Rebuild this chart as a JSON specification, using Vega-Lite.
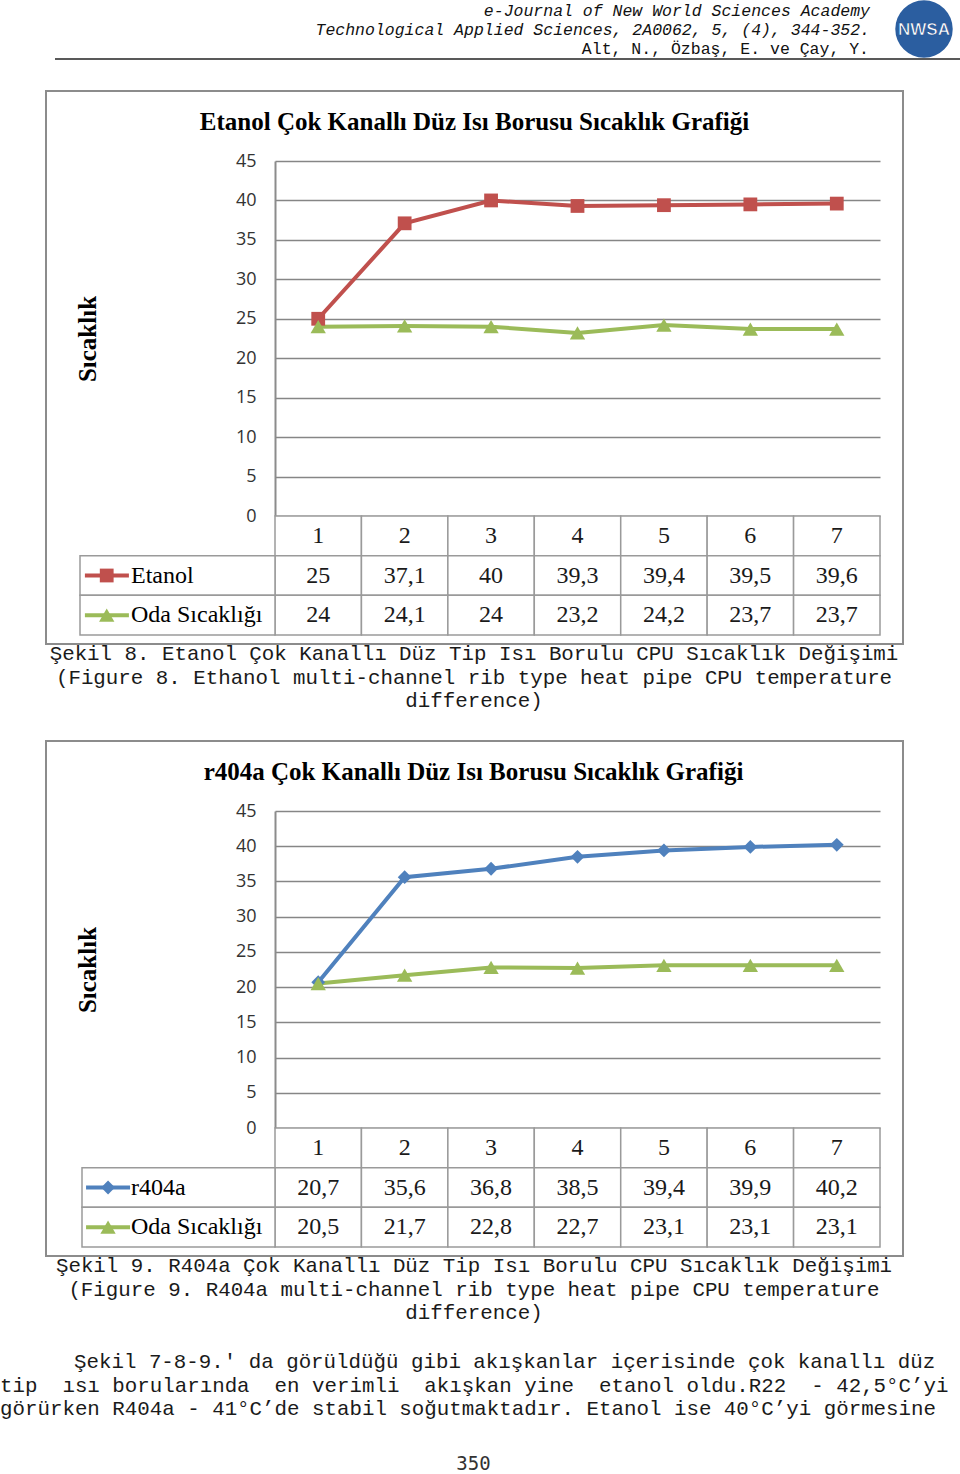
{
  "$schema": "https://vega.github.io/schema/vega-lite/v6.json",
  "padding": 0,
  "autosize": {"type": "pad"},
  "background": "white",
  "spacing": 0,
  "bounds": "flush",
  "center": true,
  "resolve": {"scale": {"color": "independent", "shape": "independent"}},
  "config": {
    "view": {"stroke": null},
    "locale": {"number": {"decimal": ",", "thousands": ".", "grouping": [3], "currency": ["", " €"]}}
  },
  "datasets": {
    "d1": [
      {"k": 1, "series": "Etanol", "value": 25},
      {"k": 2, "series": "Etanol", "value": 37.1},
      {"k": 3, "series": "Etanol", "value": 40},
      {"k": 4, "series": "Etanol", "value": 39.3},
      {"k": 5, "series": "Etanol", "value": 39.4},
      {"k": 6, "series": "Etanol", "value": 39.5},
      {"k": 7, "series": "Etanol", "value": 39.6},
      {"k": 1, "series": "Oda Sıcaklığı", "value": 24},
      {"k": 2, "series": "Oda Sıcaklığı", "value": 24.1},
      {"k": 3, "series": "Oda Sıcaklığı", "value": 24},
      {"k": 4, "series": "Oda Sıcaklığı", "value": 23.2},
      {"k": 5, "series": "Oda Sıcaklığı", "value": 24.2},
      {"k": 6, "series": "Oda Sıcaklığı", "value": 23.7},
      {"k": 7, "series": "Oda Sıcaklığı", "value": 23.7}
    ],
    "d2": [
      {"k": 1, "series": "r404a", "value": 20.7},
      {"k": 2, "series": "r404a", "value": 35.6},
      {"k": 3, "series": "r404a", "value": 36.8},
      {"k": 4, "series": "r404a", "value": 38.5},
      {"k": 5, "series": "r404a", "value": 39.4},
      {"k": 6, "series": "r404a", "value": 39.9},
      {"k": 7, "series": "r404a", "value": 40.2},
      {"k": 1, "series": "Oda Sıcaklığı", "value": 20.5},
      {"k": 2, "series": "Oda Sıcaklığı", "value": 21.7},
      {"k": 3, "series": "Oda Sıcaklığı", "value": 22.8},
      {"k": 4, "series": "Oda Sıcaklığı", "value": 22.7},
      {"k": 5, "series": "Oda Sıcaklığı", "value": 23.1},
      {"k": 6, "series": "Oda Sıcaklığı", "value": 23.1},
      {"k": 7, "series": "Oda Sıcaklığı", "value": 23.1}
    ]
  },
  "vconcat": [
    {
      "width": 949,
      "height": 91,
      "data": {"values": [{}]},
      "layer": [
        {"mark": {"type": "text", "text": "e-Journal of New World Sciences Academy", "x": 870, "y": 15.5, "align": "right", "baseline": "alphabetic", "font": "Liberation Mono", "fontSize": 16.5, "fontStyle": "italic", "color": "#111"}},
        {"mark": {"type": "text", "text": "Technological Applied Sciences, 2A0062, 5, (4), 344-352.", "x": 870, "y": 34.5, "align": "right", "baseline": "alphabetic", "font": "Liberation Mono", "fontSize": 16.5, "fontStyle": "italic", "color": "#111"}},
        {"mark": {"type": "text", "text": "Alt, N., Özbaş, E. ve Çay, Y.", "x": 869, "y": 53.5, "align": "right", "baseline": "alphabetic", "font": "Liberation Mono", "fontSize": 16.5, "color": "#111"}},
        {"mark": {"type": "rule", "color": "#222", "strokeWidth": 1.5}, "encoding": {"x": {"value": 55}, "x2": {"value": 960}, "y": {"value": 59}}},
        {"mark": {"type": "point", "shape": "circle", "filled": true, "color": "#2b5ea0", "opacity": 1, "size": 3300, "x": 924, "y": 29}},
        {"mark": {"type": "text", "text": "NWSA", "x": 924, "y": 30, "align": "center", "baseline": "middle", "font": "Liberation Sans", "fontSize": 17, "fontWeight": "bold", "color": "white", "stroke": "#1d4d8c", "strokeWidth": 0.6}}
      ]
    },
    {
      "width": 857,
      "height": 553,
      "view": {"stroke": "#8c8c8c", "strokeWidth": 2, "fill": "white"},
      "data": {"name": "d1"},
      "resolve": {"scale": {"x": "independent", "y": "independent"}},
      "layer": [
        {"data": {"values": [{}]}, "mark": {"type": "text", "text": "Etanol Çok Kanallı Düz Isı Borusu Sıcaklık Grafiği", "x": 428.5, "y": 31, "align": "center", "baseline": "middle", "font": "Liberation Serif", "fontSize": 25, "fontWeight": "bold", "color": "#000"}},
        {
          "mark": {"type": "line", "strokeWidth": 4},
          "encoding": {
            "x": {"field": "k", "type": "ordinal", "scale": {"type": "point", "padding": 0.5, "range": [229, 834]}, "axis": null},
            "y": {"field": "value", "type": "quantitative", "scale": {"domain": [0, 45], "range": [425, 70], "nice": false, "zero": false},
              "axis": {"values": [0, 5, 10, 15, 20, 25, 30, 35, 40, 45], "offset": -229, "ticks": false, "tickSize": 0, "labelPadding": 19, "domain": true, "domainColor": "#8c8c8c", "domainWidth": 2, "grid": true, "gridColor": "#868686", "gridWidth": 1.3, "labelFont": "Open Sans", "labelFontSize": 18, "labelColor": "#333", "title": "Sıcaklık", "titleFont": "Liberation Serif", "titleFontSize": 25, "titleFontWeight": "bold", "titleColor": "#000", "titleX": -188, "titleY": 247.5, "titleAngle": 270, "titleAlign": "center", "titleBaseline": "middle"}},
            "color": {"field": "series", "type": "nominal", "scale": {"domain": ["Etanol", "Oda Sıcaklığı"], "range": ["#C0504D", "#9BBB59"]}, "legend": null}
          }
        },
        {
          "mark": {"type": "point", "filled": true, "opacity": 1},
          "encoding": {
            "x": {"field": "k", "type": "ordinal", "scale": {"type": "point", "padding": 0.5, "range": [229, 834]}, "axis": null},
            "y": {"field": "value", "type": "quantitative", "scale": {"domain": [0, 45], "range": [425, 70], "nice": false, "zero": false}, "axis": null},
            "color": {"field": "series", "type": "nominal", "scale": {"domain": ["Etanol", "Oda Sıcaklığı"], "range": ["#C0504D", "#9BBB59"]}, "legend": null},
            "shape": {"field": "series", "type": "nominal", "scale": {"domain": ["Etanol", "Oda Sıcaklığı"], "range": ["square", "triangle-up"]}, "legend": null},
            "size": {"field": "series", "type": "nominal", "scale": {"type": "ordinal", "domain": ["Etanol", "Oda Sıcaklığı"], "range": [190, 235]}, "legend": null}
          }
        },
        {
          "transform": [{"filter": "datum.series === 'Etanol'"}],
          "mark": {"type": "rect", "fill": "white", "stroke": "#9a9a9a", "strokeWidth": 1.5},
          "encoding": {
            "x": {"field": "k", "type": "ordinal", "scale": {"type": "band", "paddingInner": 0, "paddingOuter": 0, "range": [229, 834]}, "axis": null},
            "y": {"datum": "h", "type": "nominal", "scale": {"type": "band", "domain": ["h", "Etanol", "Oda Sıcaklığı"], "paddingInner": 0, "paddingOuter": 0, "range": [425, 544]}, "axis": null}
          }
        },
        {
          "mark": {"type": "rect", "fill": "white", "stroke": "#9a9a9a", "strokeWidth": 1.5},
          "encoding": {
            "x": {"field": "k", "type": "ordinal", "scale": {"type": "band", "paddingInner": 0, "paddingOuter": 0, "range": [229, 834]}, "axis": null},
            "y": {"field": "series", "type": "nominal", "scale": {"type": "band", "domain": ["h", "Etanol", "Oda Sıcaklığı"], "paddingInner": 0, "paddingOuter": 0, "range": [425, 544]}, "axis": null}
          }
        },
        {
          "transform": [{"filter": "datum.series === 'Etanol'"}],
          "mark": {"type": "text", "font": "Liberation Serif", "fontSize": 24, "color": "#1a1a1a", "baseline": "middle", "align": "center"},
          "encoding": {
            "x": {"field": "k", "type": "ordinal", "scale": {"type": "point", "padding": 0.5, "range": [229, 834]}, "axis": null},
            "y": {"datum": "h", "type": "nominal", "scale": {"type": "point", "padding": 0.5, "domain": ["h", "Etanol", "Oda Sıcaklığı"], "range": [425, 544]}, "axis": null},
            "text": {"field": "k", "type": "ordinal"}
          }
        },
        {
          "mark": {"type": "text", "font": "Liberation Serif", "fontSize": 24, "color": "#1a1a1a", "baseline": "middle", "align": "center"},
          "encoding": {
            "x": {"field": "k", "type": "ordinal", "scale": {"type": "point", "padding": 0.5, "range": [229, 834]}, "axis": null},
            "y": {"field": "series", "type": "nominal", "scale": {"type": "point", "padding": 0.5, "domain": ["h", "Etanol", "Oda Sıcaklığı"], "range": [425, 544]}, "axis": null},
            "text": {"field": "value", "type": "quantitative", "format": ".1~f"}
          }
        },
        {
          "transform": [{"filter": "datum.k === 1"}],
          "mark": {"type": "rect", "fill": "white", "stroke": "#9a9a9a", "strokeWidth": 1.5},
          "encoding": {
            "x": {"datum": 0, "type": "quantitative", "scale": {"domain": [0, 1], "range": [34, 229], "nice": false, "zero": false}, "axis": null},
            "x2": {"datum": 1},
            "y": {"field": "series", "type": "nominal", "scale": {"type": "band", "domain": ["h", "Etanol", "Oda Sıcaklığı"], "paddingInner": 0, "paddingOuter": 0, "range": [425, 544]}, "axis": null}
          }
        },
        {
          "transform": [{"filter": "datum.k === 1"}],
          "mark": {"type": "point", "shape": "stroke", "size": 1936, "filled": false, "strokeWidth": 4, "opacity": 1},
          "encoding": {
            "x": {"datum": 0.138, "type": "quantitative", "scale": {"domain": [0, 1], "range": [34, 229], "nice": false, "zero": false}, "axis": null},
            "y": {"field": "series", "type": "nominal", "scale": {"type": "point", "padding": 0.5, "domain": ["h", "Etanol", "Oda Sıcaklığı"], "range": [425, 544]}, "axis": null},
            "color": {"field": "series", "type": "nominal", "scale": {"domain": ["Etanol", "Oda Sıcaklığı"], "range": ["#C0504D", "#9BBB59"]}, "legend": null}
          }
        },
        {
          "transform": [{"filter": "datum.k === 1"}],
          "mark": {"type": "point", "filled": true, "opacity": 1},
          "encoding": {
            "x": {"datum": 0.137, "type": "quantitative", "scale": {"domain": [0, 1], "range": [34, 229], "nice": false, "zero": false}, "axis": null},
            "y": {"field": "series", "type": "nominal", "scale": {"type": "point", "padding": 0.5, "domain": ["h", "Etanol", "Oda Sıcaklığı"], "range": [425, 544]}, "axis": null},
            "color": {"field": "series", "type": "nominal", "scale": {"domain": ["Etanol", "Oda Sıcaklığı"], "range": ["#C0504D", "#9BBB59"]}, "legend": null},
            "shape": {"field": "series", "type": "nominal", "scale": {"domain": ["Etanol", "Oda Sıcaklığı"], "range": ["square", "triangle-up"]}, "legend": null},
            "size": {"field": "series", "type": "nominal", "scale": {"type": "ordinal", "domain": ["Etanol", "Oda Sıcaklığı"], "range": [190, 235]}, "legend": null}
          }
        },
        {
          "transform": [{"filter": "datum.k === 1"}],
          "mark": {"type": "text", "font": "Liberation Serif", "fontSize": 24, "color": "#000", "baseline": "middle", "align": "left"},
          "encoding": {
            "x": {"datum": 0.2615, "type": "quantitative", "scale": {"domain": [0, 1], "range": [34, 229], "nice": false, "zero": false}, "axis": null},
            "y": {"field": "series", "type": "nominal", "scale": {"type": "point", "padding": 0.5, "domain": ["h", "Etanol", "Oda Sıcaklığı"], "range": [425, 544]}, "axis": null},
            "text": {"field": "series", "type": "nominal"}
          }
        }
      ]
    },
    {
      "width": 949,
      "height": 97,
      "data": {"values": [{}]},
      "mark": {"type": "text", "text": ["Şekil 8. Etanol Çok Kanallı Düz Tip Isı Borulu CPU Sıcaklık Değişimi", "(Figure 8. Ethanol multi-channel rib type heat pipe CPU temperature", "difference)"], "lineHeight": 23.5, "x": 474, "y": 16, "align": "center", "baseline": "alphabetic", "font": "Liberation Mono", "fontSize": 20.8, "color": "#1a1a1a"}
    },
    {
      "width": 857,
      "height": 515,
      "view": {"stroke": "#8c8c8c", "strokeWidth": 2, "fill": "white"},
      "data": {"name": "d2"},
      "resolve": {"scale": {"x": "independent", "y": "independent"}},
      "layer": [
        {"data": {"values": [{}]}, "mark": {"type": "text", "text": "r404a Çok Kanallı Düz Isı Borusu Sıcaklık Grafiği", "x": 427.5, "y": 31, "align": "center", "baseline": "middle", "font": "Liberation Serif", "fontSize": 25, "fontWeight": "bold", "color": "#000"}},
        {
          "mark": {"type": "line", "strokeWidth": 4},
          "encoding": {
            "x": {"field": "k", "type": "ordinal", "scale": {"type": "point", "padding": 0.5, "range": [229, 834]}, "axis": null},
            "y": {"field": "value", "type": "quantitative", "scale": {"domain": [0, 45], "range": [387, 70], "nice": false, "zero": false},
              "axis": {"values": [0, 5, 10, 15, 20, 25, 30, 35, 40, 45], "offset": -229, "ticks": false, "tickSize": 0, "labelPadding": 19, "domain": true, "domainColor": "#8c8c8c", "domainWidth": 2, "grid": true, "gridColor": "#868686", "gridWidth": 1.3, "labelFont": "Open Sans", "labelFontSize": 18, "labelColor": "#333", "title": "Sıcaklık", "titleFont": "Liberation Serif", "titleFontSize": 25, "titleFontWeight": "bold", "titleColor": "#000", "titleX": -188, "titleY": 228.5, "titleAngle": 270, "titleAlign": "center", "titleBaseline": "middle"}},
            "color": {"field": "series", "type": "nominal", "scale": {"domain": ["r404a", "Oda Sıcaklığı"], "range": ["#4F81BD", "#9BBB59"]}, "legend": null}
          }
        },
        {
          "mark": {"type": "point", "filled": true, "opacity": 1},
          "encoding": {
            "x": {"field": "k", "type": "ordinal", "scale": {"type": "point", "padding": 0.5, "range": [229, 834]}, "axis": null},
            "y": {"field": "value", "type": "quantitative", "scale": {"domain": [0, 45], "range": [387, 70], "nice": false, "zero": false}, "axis": null},
            "color": {"field": "series", "type": "nominal", "scale": {"domain": ["r404a", "Oda Sıcaklığı"], "range": ["#4F81BD", "#9BBB59"]}, "legend": null},
            "shape": {"field": "series", "type": "nominal", "scale": {"domain": ["r404a", "Oda Sıcaklığı"], "range": ["diamond", "triangle-up"]}, "legend": null},
            "size": {"field": "series", "type": "nominal", "scale": {"type": "ordinal", "domain": ["r404a", "Oda Sıcaklığı"], "range": [200, 235]}, "legend": null}
          }
        },
        {
          "transform": [{"filter": "datum.series === 'r404a'"}],
          "mark": {"type": "rect", "fill": "white", "stroke": "#9a9a9a", "strokeWidth": 1.5},
          "encoding": {
            "x": {"field": "k", "type": "ordinal", "scale": {"type": "band", "paddingInner": 0, "paddingOuter": 0, "range": [229, 834]}, "axis": null},
            "y": {"datum": "h", "type": "nominal", "scale": {"type": "band", "domain": ["h", "r404a", "Oda Sıcaklığı"], "paddingInner": 0, "paddingOuter": 0, "range": [387, 506]}, "axis": null}
          }
        },
        {
          "mark": {"type": "rect", "fill": "white", "stroke": "#9a9a9a", "strokeWidth": 1.5},
          "encoding": {
            "x": {"field": "k", "type": "ordinal", "scale": {"type": "band", "paddingInner": 0, "paddingOuter": 0, "range": [229, 834]}, "axis": null},
            "y": {"field": "series", "type": "nominal", "scale": {"type": "band", "domain": ["h", "r404a", "Oda Sıcaklığı"], "paddingInner": 0, "paddingOuter": 0, "range": [387, 506]}, "axis": null}
          }
        },
        {
          "transform": [{"filter": "datum.series === 'r404a'"}],
          "mark": {"type": "text", "font": "Liberation Serif", "fontSize": 24, "color": "#1a1a1a", "baseline": "middle", "align": "center"},
          "encoding": {
            "x": {"field": "k", "type": "ordinal", "scale": {"type": "point", "padding": 0.5, "range": [229, 834]}, "axis": null},
            "y": {"datum": "h", "type": "nominal", "scale": {"type": "point", "padding": 0.5, "domain": ["h", "r404a", "Oda Sıcaklığı"], "range": [387, 506]}, "axis": null},
            "text": {"field": "k", "type": "ordinal"}
          }
        },
        {
          "mark": {"type": "text", "font": "Liberation Serif", "fontSize": 24, "color": "#1a1a1a", "baseline": "middle", "align": "center"},
          "encoding": {
            "x": {"field": "k", "type": "ordinal", "scale": {"type": "point", "padding": 0.5, "range": [229, 834]}, "axis": null},
            "y": {"field": "series", "type": "nominal", "scale": {"type": "point", "padding": 0.5, "domain": ["h", "r404a", "Oda Sıcaklığı"], "range": [387, 506]}, "axis": null},
            "text": {"field": "value", "type": "quantitative", "format": ".1~f"}
          }
        },
        {
          "transform": [{"filter": "datum.k === 1"}],
          "mark": {"type": "rect", "fill": "white", "stroke": "#9a9a9a", "strokeWidth": 1.5},
          "encoding": {
            "x": {"datum": 0, "type": "quantitative", "scale": {"domain": [0, 1], "range": [36, 229], "nice": false, "zero": false}, "axis": null},
            "x2": {"datum": 1},
            "y": {"field": "series", "type": "nominal", "scale": {"type": "band", "domain": ["h", "r404a", "Oda Sıcaklığı"], "paddingInner": 0, "paddingOuter": 0, "range": [387, 506]}, "axis": null}
          }
        },
        {
          "transform": [{"filter": "datum.k === 1"}],
          "mark": {"type": "point", "shape": "stroke", "size": 1936, "filled": false, "strokeWidth": 4, "opacity": 1},
          "encoding": {
            "x": {"datum": 0.135, "type": "quantitative", "scale": {"domain": [0, 1], "range": [36, 229], "nice": false, "zero": false}, "axis": null},
            "y": {"field": "series", "type": "nominal", "scale": {"type": "point", "padding": 0.5, "domain": ["h", "r404a", "Oda Sıcaklığı"], "range": [387, 506]}, "axis": null},
            "color": {"field": "series", "type": "nominal", "scale": {"domain": ["r404a", "Oda Sıcaklığı"], "range": ["#4F81BD", "#9BBB59"]}, "legend": null}
          }
        },
        {
          "transform": [{"filter": "datum.k === 1"}],
          "mark": {"type": "point", "filled": true, "opacity": 1},
          "encoding": {
            "x": {"datum": 0.135, "type": "quantitative", "scale": {"domain": [0, 1], "range": [36, 229], "nice": false, "zero": false}, "axis": null},
            "y": {"field": "series", "type": "nominal", "scale": {"type": "point", "padding": 0.5, "domain": ["h", "r404a", "Oda Sıcaklığı"], "range": [387, 506]}, "axis": null},
            "color": {"field": "series", "type": "nominal", "scale": {"domain": ["r404a", "Oda Sıcaklığı"], "range": ["#4F81BD", "#9BBB59"]}, "legend": null},
            "shape": {"field": "series", "type": "nominal", "scale": {"domain": ["r404a", "Oda Sıcaklığı"], "range": ["diamond", "triangle-up"]}, "legend": null},
            "size": {"field": "series", "type": "nominal", "scale": {"type": "ordinal", "domain": ["r404a", "Oda Sıcaklığı"], "range": [200, 235]}, "legend": null}
          }
        },
        {
          "transform": [{"filter": "datum.k === 1"}],
          "mark": {"type": "text", "font": "Liberation Serif", "fontSize": 24, "color": "#000", "baseline": "middle", "align": "left"},
          "encoding": {
            "x": {"datum": 0.254, "type": "quantitative", "scale": {"domain": [0, 1], "range": [36, 229], "nice": false, "zero": false}, "axis": null},
            "y": {"field": "series", "type": "nominal", "scale": {"type": "point", "padding": 0.5, "domain": ["h", "r404a", "Oda Sıcaklığı"], "range": [387, 506]}, "axis": null},
            "text": {"field": "series", "type": "nominal"}
          }
        }
      ]
    },
    {
      "width": 949,
      "height": 218,
      "data": {"values": [{}]},
      "layer": [
        {"mark": {"type": "text", "text": ["Şekil 9. R404a Çok Kanallı Düz Tip Isı Borulu CPU Sıcaklık Değişimi", "(Figure 9. R404a multi-channel rib type heat pipe CPU temperature", "difference)"], "lineHeight": 23.5, "x": 474, "y": 16, "align": "center", "baseline": "alphabetic", "font": "Liberation Mono", "fontSize": 20.8, "color": "#1a1a1a"}},
        {"mark": {"type": "text", "text": "Şekil 7-8-9.' da görüldüğü gibi akışkanlar içerisinde çok kanallı düz", "x": 74, "y": 112, "align": "left", "baseline": "alphabetic", "font": "Liberation Mono", "fontSize": 20.8, "color": "#1a1a1a"}},
        {"mark": {"type": "text", "text": ["tip\u00a0 ısı borularında\u00a0 en verimli\u00a0 akışkan yine\u00a0 etanol oldu.R22\u00a0 - 42,5°C’yi", "görürken R404a - 41°C’de stabil soğutmaktadır. Etanol ise 40°C’yi görmesine"], "lineHeight": 23.5, "x": 0, "y": 135.5, "align": "left", "baseline": "alphabetic", "font": "Liberation Mono", "fontSize": 20.8, "color": "#1a1a1a"}},
        {"mark": {"type": "text", "text": "350", "x": 473.5, "y": 213.5, "align": "center", "baseline": "alphabetic", "font": "DejaVu Sans Mono", "fontSize": 19, "color": "#333"}}
      ]
    }
  ]
}
